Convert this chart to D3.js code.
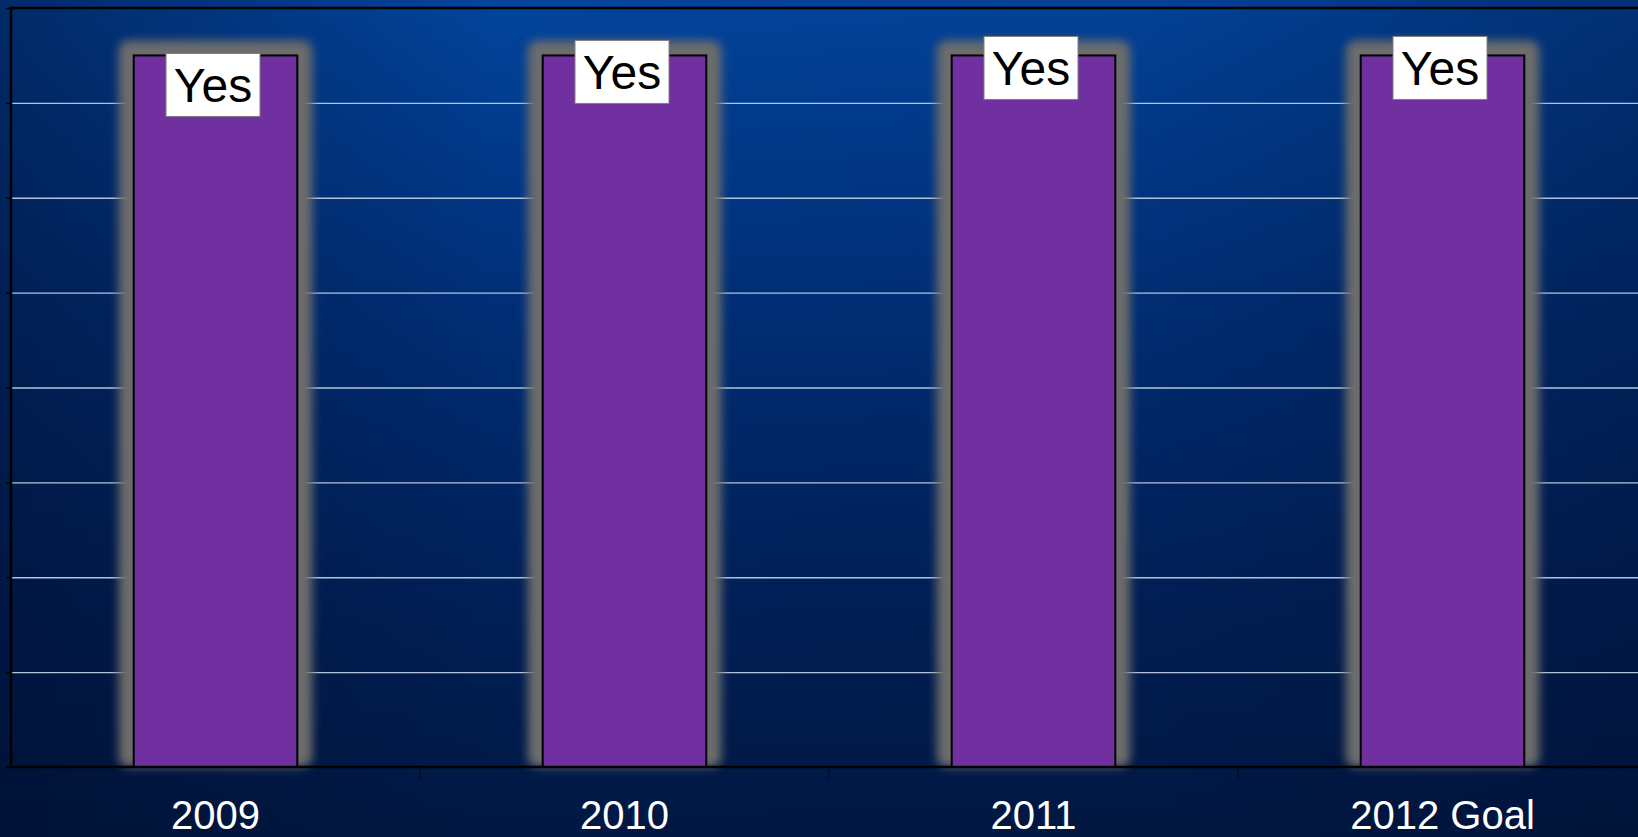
<!DOCTYPE html>
<html>
<head>
<meta charset="utf-8">
<script src="https://cdn.jsdelivr.net/npm/d3@7"></script>
<style>
  html, body { margin: 0; padding: 0; background: #00245e; overflow: hidden; }
  svg { display: block; font-family: "Liberation Sans", Arial, sans-serif; }
</style>
</head>
<body>
<div id="chart"></div>
<script>
// data
var categories = ["2009", "2010", "2011", "2012 Goal"];
var values = [7.5, 7.5, 7.5, 7.5];
var labels = ["Yes", "Yes", "Yes", "Yes"];
var yTicks = [0, 1, 2, 3, 4, 5, 6, 7, 8];

var W = 1638, H = 837;
var margin = {top: 8, left: 11, bottom: 70};
var plotBottom = H - margin.bottom;
var plotRight = margin.left + 409 * categories.length; // plot runs past the right edge

var svg = d3.select("#chart").append("svg")
    .attr("width", W)
    .attr("height", H);

var defs = svg.append("defs");

var bg = defs.append("linearGradient")
    .attr("id", "bg").attr("x1", 0).attr("y1", 0).attr("x2", 0).attr("y2", 1);
bg.append("stop").attr("offset", "0%").attr("stop-color", "#02449c");
bg.append("stop").attr("offset", "35%").attr("stop-color", "#002f78");
bg.append("stop").attr("offset", "70%").attr("stop-color", "#002058");
bg.append("stop").attr("offset", "100%").attr("stop-color", "#001842");

var side = defs.append("linearGradient")
    .attr("id", "side").attr("x1", 0).attr("y1", 0).attr("x2", 1).attr("y2", 0);
side.append("stop").attr("offset", "0%").attr("stop-color", "#000c2a").attr("stop-opacity", 0.45);
side.append("stop").attr("offset", "30%").attr("stop-color", "#000c2a").attr("stop-opacity", 0);
side.append("stop").attr("offset", "70%").attr("stop-color", "#000c2a").attr("stop-opacity", 0.05);
side.append("stop").attr("offset", "100%").attr("stop-color", "#000c2a").attr("stop-opacity", 0.35);

var glow = defs.append("filter")
    .attr("id", "glow").attr("x", "-50%").attr("y", "-10%").attr("width", "200%").attr("height", "120%");
glow.append("feGaussianBlur").attr("stdDeviation", 5);

svg.append("rect").attr("width", W).attr("height", H).attr("fill", "url(#bg)");
svg.append("rect").attr("width", W).attr("height", H).attr("fill", "url(#side)");

var x = d3.scaleBand()
    .domain(categories)
    .range([margin.left, plotRight])
    .paddingInner(0.6)
    .paddingOuter(0.3);

var y = d3.scaleLinear()
    .domain([0, 8])
    .range([plotBottom, margin.top]);

// gridlines
var grid = svg.append("g")
    .attr("transform", "translate(" + margin.left + ",0)")
    .call(d3.axisLeft(y).tickValues(yTicks.slice(1, -1)).tickSize(-(plotRight - margin.left)).tickFormat(""));
grid.select(".domain").remove();
grid.selectAll("line").attr("stroke", "#b4c4dc").attr("stroke-width", 1.4);

// glow behind the bars
svg.selectAll(".glow")
    .data(values)
  .enter().append("rect")
    .attr("class", "glow")
    .attr("x", function(d, i) { return x(categories[i]) - 15; })
    .attr("y", function(d) { return y(d) - 15; })
    .attr("width", x.bandwidth() + 30)
    .attr("height", function(d) { return y(0) - y(d) + 15; })
    .attr("rx", 10)
    .attr("fill", "#6c6c6c")
    .attr("filter", "url(#glow)");

// bars
svg.selectAll(".bar")
    .data(values)
  .enter().append("rect")
    .attr("class", "bar")
    .attr("x", function(d, i) { return x(categories[i]); })
    .attr("y", function(d) { return y(d); })
    .attr("width", x.bandwidth())
    .attr("height", function(d) { return y(0) - y(d); })
    .attr("fill", "#7030a0")
    .attr("stroke", "#000")
    .attr("stroke-width", 2);

// plot frame: left + top line
svg.append("path")
    .attr("d", "M" + margin.left + "," + plotBottom + "V" + margin.top + "H" + W)
    .attr("fill", "none")
    .attr("stroke", "#000")
    .attr("stroke-width", 2.5);

// left axis ticks
var yAxis = svg.append("g")
    .attr("transform", "translate(" + margin.left + ",0)")
    .call(d3.axisLeft(y).tickValues(yTicks).tickSize(5).tickFormat(""));
yAxis.select(".domain").remove();
yAxis.selectAll("line").attr("stroke", "#000").attr("stroke-width", 1.5);

// bottom axis line + ticks between categories
svg.append("line")
    .attr("x1", margin.left).attr("x2", W)
    .attr("y1", plotBottom).attr("y2", plotBottom)
    .attr("stroke", "#000").attr("stroke-width", 2.5);

var half = x.step() * x.paddingInner() / 2;
svg.selectAll(".xtick")
    .data(categories.slice(1))
  .enter().append("line")
    .attr("class", "xtick")
    .attr("x1", function(d) { return x(d) - half; })
    .attr("x2", function(d) { return x(d) - half; })
    .attr("y1", plotBottom)
    .attr("y2", plotBottom + 12)
    .attr("stroke", "#000a20").attr("stroke-width", 1.2);

// category labels
svg.selectAll(".xlabel")
    .data(categories)
  .enter().append("text")
    .attr("class", "xlabel")
    .attr("x", function(d) { return x(d) + x.bandwidth() / 2; })
    .attr("y", 829)
    .attr("text-anchor", "middle")
    .attr("fill", "#fff")
    .attr("font-size", 40)
    .text(function(d) { return d; });

// data labels (boxes sit at slightly different heights in the original)
var nudge = [-2, -15, -19, -19];
var boxW = 94, boxH = 63;
var lab = svg.selectAll(".dlabel")
    .data(values)
  .enter().append("g")
    .attr("class", "dlabel")
    .attr("transform", function(d, i) {
      var cx = x(categories[i]) + x.bandwidth() / 2 - 2.5;
      return "translate(" + cx + "," + (y(d) + nudge[i]) + ")";
    });
lab.append("rect")
    .attr("x", -boxW / 2).attr("y", 0)
    .attr("width", boxW).attr("height", boxH)
    .attr("fill", "#fff")
    .attr("stroke", "#7f7f7f")
    .attr("stroke-width", 1);
lab.append("text")
    .attr("x", 0).attr("y", boxH / 2 + 17)
    .attr("text-anchor", "middle")
    .attr("font-size", 48)
    .attr("fill", "#000")
    .text(function(d, i) { return labels[i]; });
</script>
</body>
</html>
